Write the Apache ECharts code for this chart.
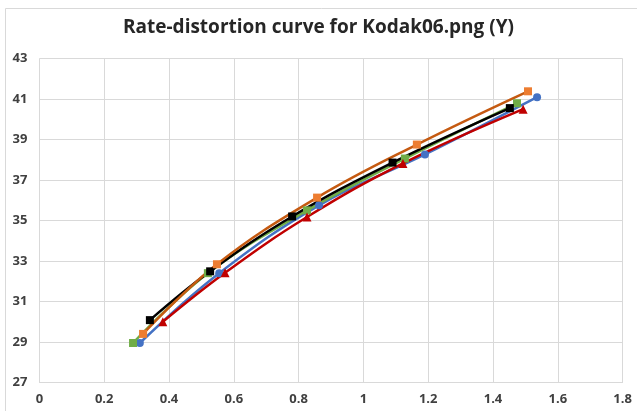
<!DOCTYPE html>
<html><head><meta charset="utf-8">
<script src="https://cdn.jsdelivr.net/npm/echarts@6/dist/echarts.min.js"></script>
<style>html,body{margin:0;padding:0;background:#fff}#c{width:637px;height:411px}</style>
</head><body><div id="c"></div>
<script>
const titleText = "Rate-distortion curve for Kodak06.png (Y)";
const blueX = [0.31, 0.555, 0.863, 1.19, 1.536];
const blueY = [28.95, 32.4, 35.75, 38.26, 41.09];
const orangeX = [0.32, 0.548, 0.857, 1.165, 1.508];
const orangeY = [29.4, 32.84, 36.13, 38.75, 41.38];
const greenX = [0.289, 0.52, 0.826, 1.128, 1.474];
const greenY = [28.95, 32.4, 35.5, 38.06, 40.79];
const blackX = [0.341, 0.527, 0.78, 1.09, 1.452];
const blackY = [30.08, 32.49, 35.2, 37.86, 40.55];
const redX = [0.381, 0.573, 0.826, 1.122, 1.493];
const redY = [30.0, 32.42, 35.17, 37.82, 40.5];

function pts(xs, ys){ return xs.map((x,i)=>[x, ys[i]]); }
function ser(name, xs, ys, line, mark, symbol, size){
  return {name, type:'line', smooth:0.4, data:pts(xs,ys), symbol, symbolSize:size,
    lineStyle:{color:line, width:2.5}, itemStyle:{color:mark, borderWidth:0}, z: 3};
}
const chart = echarts.init(document.getElementById('c'), null, {renderer:'canvas'});
const lab = {color:'#404040', fontWeight:'bold', fontSize:13, fontFamily:'Open Sans'};
chart.setOption({
  animation:false,
  graphic:[{type:'rect', shape:{x:5.5,y:8.5,width:700,height:500}, style:{fill:'none', stroke:'#d9d9d9', lineWidth:1}, silent:true}],
  title:{text:titleText, left:'center', top:13, textStyle:{fontFamily:'Open Sans', fontWeight:'bold', fontSize:19, color:'#262626'}},
  grid:{left:39.4, right:14.4, top:58.5, bottom:28.5},
  xAxis:{type:'value', min:0, max:1.8, interval:0.2,
    axisLine:{show:true, lineStyle:{color:'#d9d9d9'}}, axisTick:{show:false},
    splitLine:{show:true, lineStyle:{color:'#d9d9d9', width:1}},
    axisLabel:Object.assign({margin:10, formatter:v=>String(+v.toFixed(1))}, lab)},
  yAxis:{type:'value', min:27, max:43, interval:2,
    axisLine:{show:false}, axisTick:{show:false},
    splitLine:{show:true, lineStyle:{color:'#d9d9d9', width:1}},
    axisLabel:Object.assign({margin:12}, lab)},
  series:[
    ser('blue', blueX, blueY, '#4472C4', '#4472C4', 'circle', 8),
    ser('green', greenX, greenY, '#70AD47', '#70AD47', 'rect', 8),
    ser('red', redX, redY, '#C00000', '#C00000', 'triangle', 9),
    ser('black', blackX, blackY, '#000000', '#000000', 'rect', 8),
    ser('orange', orangeX, orangeY, '#C55A11', '#ED7D31', 'rect', 8)
  ]
});
</script></body></html>
